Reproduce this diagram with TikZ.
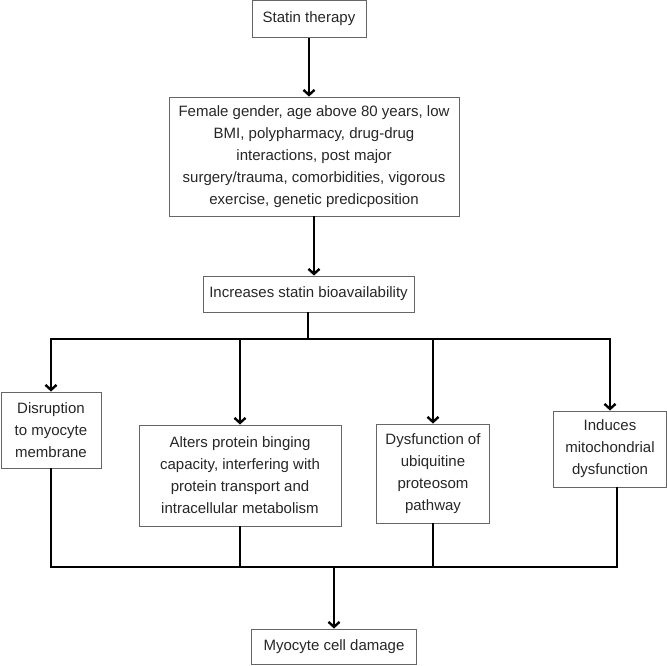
\documentclass[tikz,border=0pt]{standalone}
\usepackage{fontspec}
\setmainfont{Liberation Sans}
\usetikzlibrary{arrows.meta}
\begin{document}
\begin{tikzpicture}[x=1pt,y=-1pt,
  box/.style={draw=black!60,line width=0.9pt,inner sep=0pt,align=center,
    font=\fontsize{15}{22}\selectfont,text=black!85},
  conn/.style={line width=2.4pt,black},
  arr/.style={conn,-{Straight Barb[length=5pt,width=11pt]}},
  drop/.style={line width=1.8pt,black}]
\useasboundingbox (0,0) rectangle (667,665);
% boxes
\node[box,minimum width=114pt,minimum height=37pt] (st) at (309,19) {Statin therapy};
\node[box,minimum width=290pt,minimum height=119pt] (rf) at (314,156.5)
  {Female gender, age above 80 years, low\\BMI, polypharmacy, drug-drug\\interactions, post major\\surgery/trauma, comorbidities, vigorous\\exercise, genetic predicposition};
\node[box,minimum width=211pt,minimum height=36pt] (ib) at (308.5,294) {Increases statin bioavailability};
\node[box,minimum width=100pt,minimum height=76pt] (a) at (51,430) {Disruption\\to myocyte\\membrane};
\node[box,minimum width=202pt,minimum height=101pt] (b) at (240,475.5)
  {Alters protein binging\\capacity, interfering with\\protein transport and\\intracellular metabolism};
\node[box,minimum width=113pt,minimum height=99pt] (c) at (433,473.5)
  {Dysfunction of\\ubiquitine\\proteosom\\pathway};
\node[box,minimum width=113pt,minimum height=76pt] (d) at (610,449)
  {Induces\\mitochondrial\\dysfunction};
\node[box,minimum width=165pt,minimum height=35pt] (e) at (334,646.5) {Myocyte cell damage};
% junction coordinates
\coordinate (ht) at (308,339);
\coordinate (hb) at (334,567);
\coordinate (dr) at ([xshift=7pt]d.south);
% connectors
\draw[arr] (st.south) -- (st.south |- rf.north);
\draw[arr] (rf.south) -- (rf.south |- ib.north);
\draw[conn] (ib.south -| ht) -- (ht);
\draw[arr] (ht) -| (a.north);
\draw[arr] (ht) -| (d.north);
\draw[arr] (b.north |- ht) -- (b.north);
\draw[arr] (c.north |- ht) -- (c.north);
\draw[drop] (a.south) -- (a.south |- hb);
\draw[drop] (b.south) -- (b.south |- hb);
\draw[drop] (c.south) -- (c.south |- hb);
\draw[drop] (dr) -- (dr |- hb);
\draw[conn] ([xshift=-0.9pt]a.south |- hb) -- ([xshift=0.9pt]dr |- hb);
\draw[arr] (hb) -- (e.north);
\end{tikzpicture}
\end{document}
